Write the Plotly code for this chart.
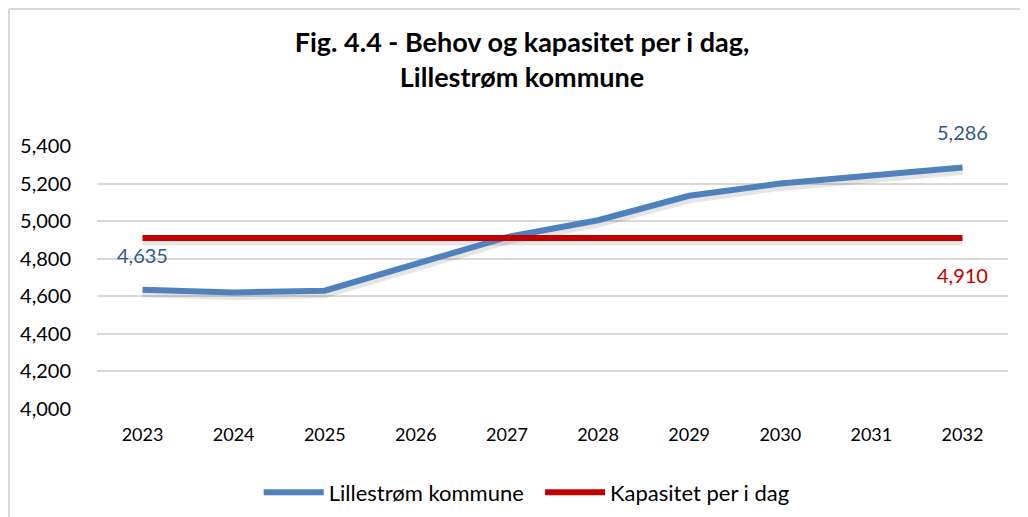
import plotly.graph_objects as go

years = [2023, 2024, 2025, 2026, 2027, 2028, 2029, 2030, 2031, 2032]
behov = [4635, 4620, 4630, 4773, 4915, 5005, 5135, 5200, 5245, 5286]
kapasitet = [4910] * 10

FONT = 'Lato'
BLUE = '#4f81bd'
RED = '#c00000'

fig = go.Figure()

# soft drop shadows under the lines (Excel style), shifted ~3px down
for series in (behov, kapasitet):
    fig.add_trace(go.Scatter(x=years, y=[v - 16 for v in series], mode='lines',
                             line=dict(color='rgba(0,0,0,0.10)', width=9),
                             showlegend=False, hoverinfo='skip'))

fig.add_trace(go.Scatter(x=years, y=behov, mode='lines',
                         name='Lillestrøm kommune\u00a0\u00a0',
                         line=dict(color=BLUE, width=6)))
fig.add_trace(go.Scatter(x=years, y=kapasitet, mode='lines', name='Kapasitet per i dag',
                         line=dict(color=RED, width=6)))

# data labels (first and last point)
fig.add_annotation(x=years[0], y=behov[0], text=f'{behov[0]:,}', showarrow=False,
                   yshift=35, font=dict(size=20, color='#2f5b8c', family=FONT))
fig.add_annotation(x=years[-1], y=behov[-1], text=f'{behov[-1]:,}', showarrow=False,
                   yshift=35, font=dict(size=20, color='#2f5b8c', family=FONT))
fig.add_annotation(x=years[-1], y=kapasitet[-1], text=f'{kapasitet[-1]:,}', showarrow=False,
                   yshift=-37, font=dict(size=20, color=RED, family=FONT))

fig.update_layout(
    width=1028, height=517,
    margin=dict(l=89, r=28, t=138, b=116, autoexpand=False),
    plot_bgcolor='white', paper_bgcolor='white',
    font=dict(family=FONT, color='black'),
    title=dict(text='<b>Fig. 4.4 - Behov og kapasitet per i dag,<br>Lillestrøm kommune</b>',
               x=0.5, xanchor='center', y=0.915, yanchor='top',
               font=dict(size=27, family=FONT, color='black')),
    legend=dict(orientation='h', x=0.4717, xanchor='center', y=-0.317, yanchor='middle',
                font=dict(size=22, family=FONT), itemwidth=60),
    showlegend=True,
)
fig.update_xaxes(type='linear', range=[years[0] - 0.5, years[-1] + 0.5], tickmode='array',
                 tickvals=years, ticktext=[str(y) for y in years],
                 showgrid=False, showline=False, zeroline=False,
                 ticks='outside', ticklen=9, tickcolor='white', tickfont=dict(size=18))
fig.update_yaxes(range=[4000, 5400], dtick=200, tickformat=',', gridcolor='#d9d9d9',
                 gridwidth=1.5, zeroline=False, showline=False,
                 ticks='outside', ticklen=21, tickcolor='white', tickfont=dict(size=20))

# outer chart border (top and left edges visible)
fig.add_shape(type='line', xref='paper', yref='paper', x0=-0.0966, x1=1.1,
              y0=1.521, y1=1.521, line=dict(color='#d9d9d9', width=2))
fig.add_shape(type='line', xref='paper', yref='paper', x0=-0.0966, x1=-0.0966,
              y0=1.521, y1=-0.5, line=dict(color='#d9d9d9', width=2))

fig.write_html('out.html')
